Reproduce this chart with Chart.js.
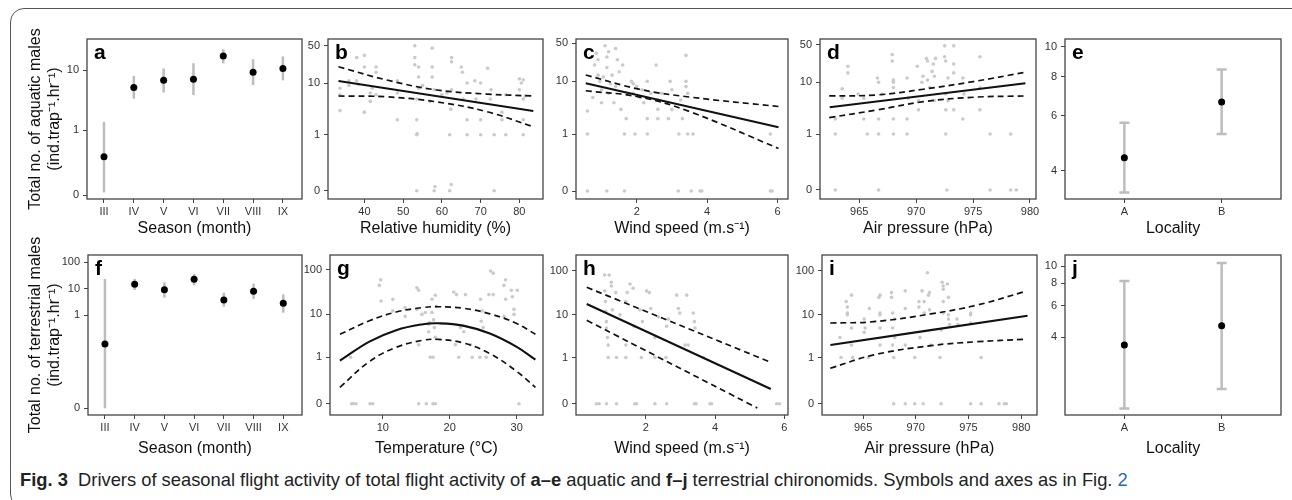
<!DOCTYPE html>
<html>
<head>
<meta charset="utf-8">
<script src="https://cdn.jsdelivr.net/npm/chart.js@4.4.0/dist/chart.umd.min.js"></script>
<style>
body{margin:0;background:#fff;width:1292px;height:500px;overflow:hidden;position:relative;font-family:"Liberation Sans",Arial,sans-serif}
.frame{position:absolute;left:10px;top:8px;width:1310px;height:500px;border:1.4px solid #555;border-radius:14px;box-sizing:border-box}
canvas{position:absolute}
#cap{position:absolute;left:20px;top:469px;font-size:18.5px;white-space:nowrap;transform-origin:0 0;color:#222}
#cap a{color:#2b6cb5;text-decoration:none}
</style>
</head>
<body>
<div class="frame"></div>
<div id="cap"><b>Fig. 3</b>&nbsp; Drivers of seasonal flight activity of total flight activity of <b>a–e</b> aquatic and <b>f–j</b> terrestrial chironomids. Symbols and axes as in Fig. <a>2</a></div>
<script>
// ---- data ----
var months = ['III', 'IV', 'V', 'VI', 'VII', 'VIII', 'IX'];
var aquaticMonthMean = [0.31, 5.2, 6.8, 7.1, 16.9, 9.2, 10.6];
var aquaticMonthLo = [0.01, 3.4, 4.3, 3.9, 12.8, 5.7, 6.8];
var aquaticMonthHi = [1.39, 8.0, 10.6, 12.9, 21.6, 14.9, 16.6];
var terrMonthMean = [0.081, 14.7, 9.2, 22.8, 3.75, 8.0, 2.8];
var terrMonthLo = [0, 8.96, 4.6, 13.5, 2.1, 4.1, 1.24];
var terrMonthHi = [23.3, 23.3, 17.5, 36, 7.1, 15.5, 6.15];

var localities = ['A', 'B'];
var aquaticLocMean = [4.40, 6.65];
var aquaticLocLo = [3.40, 5.24];
var aquaticLocHi = [5.70, 8.45];
var terrLocMean = [3.62, 4.64];
var terrLocLo = [1.60, 2.06];
var terrLocHi = [8.24, 10.4];

var ticksLow = [0, 1, 10, 50];
var ticksHigh = [0, 1, 10, 100];
var ticksMonthA = [0, 1, 10];
var ticksLoc = [4, 6, 8, 10];
var ticksHumidity = [40, 50, 60, 70, 80];
var ticksWind = [2, 4, 6];
var ticksPressure = [965, 970, 975, 980];
var ticksTemp = [10, 20, 30];

// b: relative humidity
var humidityPts = [[33.7,30],[33.7,8],[33.7,6],[33.7,3],[36,11],[36,9],[38,30],[38,11],[38.5,9.5],[40,33],[40,20],[40,2.8],
  [41.5,6.5],[41.5,4.5],[42,8],[43,20],[43,16],[43,6],[48.5,11],[48.5,2],[48.5,6.5],[53,50],[53,30],[53,22],[53.5,2],
  [53.5,1],[53.6,1.05],[53.5,0],[53.5,5],[54,20],[54,13],[54,8],[55,9],[57,4.5],[57.5,45],[57.5,20],[57.5,13],[58,7.5],
  [58,0],[58.2,0.02],[60,6],[61.3,6.5],[62,1],[62,0],[62.4,0.03],[62.3,3.2],[62.5,30],[62.5,25],[62.5,7.5],[65,20],[65.3,16],
  [65.5,5],[66.5,10],[66.5,2],[66.5,1],[68.5,11],[68.8,5],[70,10],[70,2],[70,1],[71.8,19],[72.5,5],[72.7,7.5],[73.5,1],
  [73.5,0],[75.5,2.8],[75.5,2],[76.5,6],[76.5,1],[80,12],[80,7.5],[80.5,10],[81,11.5],[81,5],[81,2],[81,1],[81.5,5.7]];
var humidityFitX = [33.3, 83.6];
var humidityFit = [10.9, 2.95];
var humidityBandX = [33.3, 45.8, 58.7, 71.6, 83.6];
var humidityUpper = [20.2, 11.4, 7.4, 6.2, 5.7];
var humidityLower = [5.7, 5.5, 4.4, 2.86, 1.45];

// c: wind speed, aquatic
var windAqPts = [[0.6,2.8],[0.6,1],[0.6,0],[0.75,5],[0.8,20],[0.85,33],[0.9,25],[0.9,13],[0.95,10],[1.0,7],[1.0,4],[1.05,12],
  [1.1,45],[1.15,28],[1.15,18],[1.2,6],[1.2,35],[1.15,0],[1.25,9],[1.3,13],[1.35,4],[1.4,40],[1.4,8],[1.45,25],[1.5,15],
  [1.55,3],[1.6,20],[1.65,1],[1.65,0],[1.7,2],[1.85,10],[1.9,6],[1.9,9],[1.95,1],[2.0,8],[2.1,5],[2.15,7],[2.2,4],[2.3,1],
  [2.3,10],[2.3,2],[2.4,6],[2.55,20],[2.6,3],[2.6,4.5],[2.6,2],[2.7,6],[2.9,2],[2.95,10],[3.0,7],[3.0,3],[3.18,0],[3.2,1],
  [3.25,4.5],[3.3,2],[3.4,30],[3.4,10],[3.4,8],[3.45,6],[3.45,1],[3.6,1],[3.55,0],[3.8,0],[3.85,0],[5.8,1],[5.8,0],[5.85,0]];
var windAqFitX = [0.55, 6.03];
var windAqFit = [9.2, 1.36];
var windAqBandX = [0.55, 2.09, 3.52, 6.03];
var windAqUpper = [13.1, 7.1, 5.1, 3.4];
var windAqLower = [6.7, 5.1, 2.7, 0.50];

// d: air pressure, aquatic
var pressAqPts = [[962.9,2],[962.9,1],[962.9,0],[963.5,7.5],[963.5,5],[964,20],[964,15],[964.9,6],[965.4,2],[965.4,5],
  [965.7,1],[966.6,12],[966.7,10],[966.7,2],[966.7,1],[966.7,0],[967,6],[967.9,33],[967.9,25],[968,11],[968,10],[968,8],
  [968,2],[968,1],[969.2,12],[969.2,2],[969.2,1],[969.3,5],[970.1,20],[970.2,4.5],[970.2,3],[970.5,10],[970.6,13],
  [970.9,28],[971,11],[971,25],[971.2,8],[971.4,16],[971.5,22],[971.6,13],[971.6,4.5],[971.7,28],[972.5,48],[972.5,30],
  [972.6,25],[972.6,6],[972.6,3],[972.6,1],[972.7,0],[972.8,12],[972.8,4.5],[973.3,48],[973.3,22],[973.3,15],[973.3,3],
  [974.1,12],[974.1,2],[974.2,6],[975.6,30],[975.6,8],[975.6,3],[976.5,1],[976.5,0],[978.3,1],[978.3,0],[978.8,0]];
var pressAqFitX = [962.4, 979.6];
var pressAqFit = [3.37, 9.6];
var pressAqBandX = [962.36, 966.53, 970.63, 975.02, 979.56];
var pressAqUpper = [5.52, 5.77, 7.40, 10.3, 15.4];
var pressAqLower = [2.12, 2.98, 4.30, 5.22, 5.52];

// g: temperature, terrestrial
var tempPts = [[5.2,1],[5.35,0],[5.6,0],[6,0],[8.1,0],[8.5,0],[9.5,45],[9.7,60],[9.75,20],[11.5,22],[11.5,12],[13.35,14],
  [13.35,9],[15.1,40],[15.35,35],[15.1,13],[15.35,2],[15.35,0],[15.85,10],[16.35,11],[16.5,0],[16.85,6],[16.85,4],[17,6.5],
  [17.1,1],[17.35,22],[17.35,11],[17.5,1],[17.5,0],[17.6,7.5],[17.7,5],[17.85,27],[17.85,3],[17.85,0],[18,15],[20.6,32],
  [21,28],[20.85,2],[21.35,1],[21.6,5],[22.1,4],[22.35,28],[23.1,2],[23.35,1],[24.5,1],[24.6,22],[24.7,7],[24.85,12],
  [25,5],[25.45,1],[25.85,28],[26.1,95],[26.5,85],[26.5,28],[28.1,45],[28.35,60],[28.1,9],[28.35,22],[29.2,35],[29.35,25],
  [29.6,13],[29.6,10],[30.1,35],[30.35,0]];
var tempCurveX = [3.6, 8, 12, 16, 18.3, 22, 26, 30, 32.8];
var tempFit = [0.82, 2.37, 4.37, 5.97, 6.27, 5.54, 3.65, 1.78, 0.87];
var tempUpper = [3.5, 7.16, 11.3, 14.3, 14.9, 13.8, 10.3, 6.2, 3.5];
var tempLower = [0.133, 0.78, 1.74, 2.55, 2.67, 2.21, 1.23, 0.43, 0.133];

// h: wind speed, terrestrial
var windTerPts = [[0.57,0],[0.65,0],[0.81,80],[0.94,80],[0.81,35],[0.83,20],[0.84,12],[0.86,7],[0.86,5],[0.89,3],[0.91,2],
  [0.91,1],[0.86,0],[1.0,55],[1.0,45],[1.03,13],[1.13,32],[1.15,1],[1.15,0],[1.25,10],[1.42,1],[1.42,2],[1.42,20],
  [1.46,32],[1.54,50],[1.63,40],[1.66,5.5],[1.68,0],[1.73,0],[1.83,13],[1.87,1],[1.9,7],[2.02,35],[2.1,32],[2.14,14],
  [2.26,0],[2.26,3],[2.26,1],[2.36,9],[2.58,1],[2.6,0],[2.6,5.5],[2.65,8],[2.89,28],[2.94,14],[2.98,11],[3.13,2],
  [3.18,28],[3.22,2],[3.37,11],[3.4,7],[3.4,0],[3.42,5],[3.45,0],[3.66,1],[3.85,0],[3.9,0],[5.78,0],[5.86,0]];
var windTerFitX = [0.29, 5.61];
var windTerFit = [17.6, 0.115];
var windTerUpperX = [0.29, 5.61];
var windTerUpper = [42.2, 0.76];
var windTerLowerX = [0.29, 5.22];
var windTerLower = [7.52, -0.02];

// i: air pressure, terrestrial
var pressTerPts = [[962.8,3],[962.9,1],[963.4,20],[963.5,15],[963.5,11],[963.5,10],[963.9,28],[963.9,5],[963.9,2],[964,1],
  [965.1,8],[965.1,4],[965.2,5],[965.5,1],[965.6,14],[966.5,25],[966.6,11],[966.6,10],[966.6,28],[966.6,5],[966.6,2],
  [967.7,32],[967.7,25],[967.8,11],[967.8,5],[967.8,2],[967.9,1],[967.9,0],[968,3],[968,8],[969,35],[969,14],[969,2],
  [969,0],[969.9,1],[969.9,0],[970.3,20],[970.3,15],[970.4,3],[970.6,35],[970.7,0],[970.8,20],[970.8,11],[971.1,90],
  [971.2,28],[971.3,32],[971.3,13],[971.4,2],[972.3,1],[972.4,4.5],[972.4,0],[972.5,55],[972.6,45],[972.6,38],[972.6,20],
  [972.6,11],[973,50],[973.1,25],[973.1,10],[973.1,8],[973.2,6],[973.9,8],[974,6],[975.2,11],[975.2,10],[975.2,6.5],
  [975.2,0],[976.2,1],[976.2,0],[977.9,0],[978.4,0],[978.6,0]];
var pressTerFitX = [961.9, 980.6];
var pressTerFit = [2.01, 9.56];
var pressTerBandX = [961.88, 966.01, 971.42, 975.87, 980.31];
var pressTerUpper = [6.52, 6.98, 10.5, 16.8, 33.6];
var pressTerLower = [0.53, 1.16, 1.94, 2.41, 2.74];

// ---- drawing ----
var FONT = '"Liberation Sans", Arial, sans-serif';
var extras = {};
function tf(v, c) { return Math.log10(v + c); }

function pts(list, c) {
  return list.map(function (p) { return { x: p[0], y: tf(p[1], c) }; });
}
function zip(xs, ys, c) {
  return xs.map(function (x, i) { return { x: x, y: tf(ys[i], c) }; });
}
function scatterSet(list, c) {
  return { data: pts(list, c), pointRadius: 1.8, pointBackgroundColor: '#cacaca', pointBorderWidth: 0, showLine: false };
}
function lineSet(data, dashed) {
  return { data: data, showLine: true, borderColor: '#111', borderWidth: dashed ? 1.7 : 2.1,
    borderDash: dashed ? [6, 4] : [], pointRadius: 0, tension: 0.4 };
}
function meanSet(means, c) {
  return { data: means.map(function (m, i) { return { x: i + 1, y: tf(m, c) }; }),
    pointRadius: 3.5, pointBackgroundColor: '#000', pointBorderWidth: 0, showLine: false };
}

var panelPlugin = {
  id: 'panelBox',
  beforeDatasetsDraw: function (chart) {
    var p = extras[chart.canvas.id];
    if (!p.bars) return;
    var ctx = chart.ctx, x = chart.scales.x, y = chart.scales.y;
    ctx.save();
    ctx.strokeStyle = '#bdbdbd';
    ctx.lineWidth = 2.5;
    p.bars.lo.forEach(function (lo, i) {
      var px = x.getPixelForValue(i + 1);
      var y1 = y.getPixelForValue(tf(lo, p.c));
      var y2 = y.getPixelForValue(tf(p.bars.hi[i], p.c));
      ctx.beginPath();
      ctx.moveTo(px, y1); ctx.lineTo(px, y2);
      if (p.bars.cap) {
        ctx.moveTo(px - p.bars.cap, y1); ctx.lineTo(px + p.bars.cap, y1);
        ctx.moveTo(px - p.bars.cap, y2); ctx.lineTo(px + p.bars.cap, y2);
      }
      ctx.stroke();
    });
    ctx.restore();
  },
  afterDraw: function (chart) {
    var p = extras[chart.canvas.id];
    var ctx = chart.ctx, a = chart.chartArea;
    ctx.save();
    ctx.strokeStyle = '#444';
    ctx.lineWidth = 1.3;
    ctx.strokeRect(a.left, a.top, a.right - a.left, a.bottom - a.top);
    ctx.fillStyle = '#000';
    ctx.font = 'bold 21px ' + FONT;
    ctx.fillText(p.letter, a.left + 7, a.top + 20);
    ctx.restore();
  }
};

function makePanel(p) {
  var yw = p.yw || 44, top = p.padTop || 12, right = 24;
  var cv = document.createElement('canvas');
  cv.id = 'panel_' + p.letter;
  var W = p.box[2] - p.box[0] + yw + right;
  var H = p.box[3] - p.box[1] + top + p.xh;
  cv.width = W; cv.height = H;
  cv.style.left = (p.box[0] - yw) + 'px';
  cv.style.top = (p.box[1] - top) + 'px';
  cv.style.width = W + 'px';
  cv.style.height = H + 'px';
  document.body.appendChild(cv);
  extras[cv.id] = p;
  var tickFont = { family: FONT, size: 11 };
  var grid = { drawOnChartArea: false, tickLength: 4, color: '#444', lineWidth: 1 };
  return new Chart(cv, {
    type: 'scatter',
    data: { datasets: p.datasets },
    options: {
      responsive: false,
      animation: false,
      events: [],
      layout: { padding: { top: top, right: right, left: 0, bottom: 0 } },
      plugins: { legend: { display: false }, tooltip: { enabled: false } },
      scales: {
        x: {
          type: 'linear', min: p.xMin, max: p.xMax,
          afterBuildTicks: function (s) { s.ticks = p.xTicks.map(function (v) { return { value: v }; }); },
          afterFit: function (s) { s.height = p.xh; },
          grid: grid,
          border: { display: false },
          ticks: { autoSkip: false, maxRotation: 0, padding: 2, color: '#333', font: tickFont,
            callback: function (v, i) { return p.xLabels ? p.xLabels[i] : String(p.xTicks[i]); } },
          title: { display: true, text: p.xTitle, color: '#111', font: { family: FONT, size: 16 }, padding: { top: 0, bottom: 0 } }
        },
        y: {
          type: 'linear', min: p.yMin, max: p.yMax,
          afterBuildTicks: function (s) { s.ticks = p.yTicks.map(function (v) { return { value: tf(v, p.c) }; }); },
          afterFit: function (s) { s.width = yw; },
          grid: grid,
          border: { display: false },
          ticks: { autoSkip: false, padding: 4, color: '#333', font: tickFont,
            callback: function (v, i) { return String(p.yTicks[i]); } },
          title: p.yTitle ? { display: true, text: p.yTitle, color: '#111', font: { family: FONT, size: 16 }, padding: { top: 10, bottom: 0 } }
                          : { display: false }
        }
      }
    },
    plugins: [panelPlugin]
  });
}

var top1 = [39, 199], top2 = [255, 415];

// a
makePanel({ letter: 'a', box: [87, top1[0], 302, top1[1]], yw: 71, padTop: 30, xh: 39, c: 0.1,
  xMin: 0.43, xMax: 7.64, xTicks: [1, 2, 3, 4, 5, 6, 7], xLabels: months, xTitle: 'Season (month)',
  yMin: -1.064, yMax: 1.502, yTicks: ticksMonthA,
  yTitle: ['Total no. of aquatic males', '(ind.trap\u207B\u00B9.hr\u207B\u00B9)'],
  bars: { lo: aquaticMonthLo, hi: aquaticMonthHi, cap: 0 },
  datasets: [meanSet(aquaticMonthMean, 0.1)] });

// b
makePanel({ letter: 'b', box: [328, top1[0], 543, top1[1]], xh: 39, c: 0.1,
  xMin: 30.6, xMax: 86.1, xTicks: ticksHumidity, xTitle: 'Relative humidity (%)',
  yMin: -1.155, yMax: 1.825, yTicks: ticksLow,
  datasets: [lineSet(zip(humidityFitX, humidityFit, 0.1), false),
    lineSet(zip(humidityBandX, humidityUpper, 0.1), true),
    lineSet(zip(humidityBandX, humidityLower, 0.1), true),
    scatterSet(humidityPts, 0.1)] });

// c
makePanel({ letter: 'c', box: [576, top1[0], 788, top1[1]], xh: 39, c: 0.1,
  xMin: 0.273, xMax: 6.30, xTicks: ticksWind, xTitle: 'Wind speed (m.s\u207B\u00B9)',
  yMin: -1.146, yMax: 1.778, yTicks: ticksLow,
  datasets: [lineSet(zip(windAqFitX, windAqFit, 0.1), false),
    lineSet(zip(windAqBandX, windAqUpper, 0.1), true),
    lineSet(zip(windAqBandX, windAqLower, 0.1), true),
    scatterSet(windAqPts, 0.1)] });

// d
makePanel({ letter: 'd', box: [820, top1[0], 1036, top1[1]], xh: 39, c: 0.1,
  xMin: 961.55, xMax: 980.53, xTicks: ticksPressure, xTitle: 'Air pressure (hPa)',
  yMin: -1.168, yMax: 1.81, yTicks: ticksLow,
  datasets: [lineSet(zip(pressAqFitX, pressAqFit, 0.1), false),
    lineSet(zip(pressAqBandX, pressAqUpper, 0.1), true),
    lineSet(zip(pressAqBandX, pressAqLower, 0.1), true),
    scatterSet(pressAqPts, 0.1)] });

// e
makePanel({ letter: 'e', box: [1065, top1[0], 1281, top1[1]], xh: 39, c: 0,
  xMin: 0.39, xMax: 2.61, xTicks: [1, 2], xLabels: localities, xTitle: 'Locality',
  yMin: 0.511, yMax: 1.0247, yTicks: ticksLoc,
  bars: { lo: aquaticLocLo, hi: aquaticLocHi, cap: 5 },
  datasets: [meanSet(aquaticLocMean, 0)] });

// f
makePanel({ letter: 'f', box: [88, top2[0], 302, top2[1]], yw: 72, padTop: 30, xh: 43, c: 0.0003,
  xMin: 0.43, xMax: 7.63, xTicks: [1, 2, 3, 4, 5, 6, 7], xLabels: months, xTitle: 'Season (month)',
  yMin: -3.776, yMax: 2.276, yTicks: ticksHigh,
  yTitle: ['Total no. of terrestrial males', '(ind.trap\u207B\u00B9.hr\u207B\u00B9)'],
  bars: { lo: terrMonthLo, hi: terrMonthHi, cap: 0 },
  datasets: [meanSet(terrMonthMean, 0.0003)] });

// g
makePanel({ letter: 'g', box: [330, top2[0], 543, top2[1]], xh: 43, c: 0.1,
  xMin: 2.12, xMax: 33.93, xTicks: ticksTemp, xTitle: 'Temperature (\u00B0C)',
  yMin: -1.254, yMax: 2.337, yTicks: ticksHigh,
  datasets: [lineSet(zip(tempCurveX, tempFit, 0.1), false),
    lineSet(zip(tempCurveX, tempUpper, 0.1), true),
    lineSet(zip(tempCurveX, tempLower, 0.1), true),
    scatterSet(tempPts, 0.1)] });

// h
makePanel({ letter: 'h', box: [576, top2[0], 788, top2[1]], xh: 43, c: 0.1,
  xMin: -0.02, xMax: 6.107, xTicks: ticksWind, xTitle: 'Wind speed (m.s\u207B\u00B9)',
  yMin: -1.255, yMax: 2.355, yTicks: ticksHigh,
  datasets: [lineSet(zip(windTerFitX, windTerFit, 0.1), false),
    lineSet(zip(windTerUpperX, windTerUpper, 0.1), true),
    lineSet(zip(windTerLowerX, windTerLower, 0.1), true),
    scatterSet(windTerPts, 0.1)] });

// i
makePanel({ letter: 'i', box: [822, top2[0], 1037, top2[1]], xh: 43, c: 0.1,
  xMin: 961.1, xMax: 981.5, xTicks: ticksPressure, xTitle: 'Air pressure (hPa)',
  yMin: -1.255, yMax: 2.355, yTicks: ticksHigh,
  datasets: [lineSet(zip(pressTerFitX, pressTerFit, 0.1), false),
    lineSet(zip(pressTerBandX, pressTerUpper, 0.1), true),
    lineSet(zip(pressTerBandX, pressTerLower, 0.1), true),
    scatterSet(pressTerPts, 0.1)] });

// j
makePanel({ letter: 'j', box: [1065, top2[0], 1281, top2[1]], xh: 43, c: 0,
  xMin: 0.39, xMax: 2.61, xTicks: [1, 2], xLabels: localities, xTitle: 'Locality',
  yMin: 0.168, yMax: 1.0615, yTicks: ticksLoc,
  bars: { lo: terrLocLo, hi: terrLocHi, cap: 5 },
  datasets: [meanSet(terrLocMean, 0)] });

// caption is set in a narrower face in the original; fit it to the same span
var cap = document.getElementById('cap');
cap.style.transform = 'scaleX(' + (1108 / cap.offsetWidth) + ')';
</script>
</body>
</html>
